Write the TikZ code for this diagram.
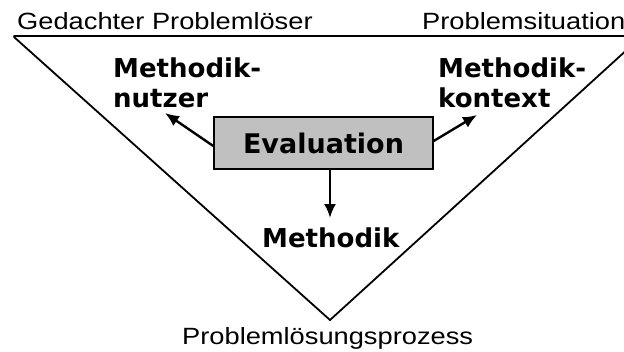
\documentclass[tikz,border=0pt]{standalone}
\usepackage{fontspec}
\setmainfont{Liberation Sans}
\newfontfamily\widefont[FakeStretch=1.16]{Liberation Sans}
\newfontfamily\labelfont{DejaVu Sans}
\usetikzlibrary{arrows.meta}

\definecolor{boxgray}{RGB}{192,192,192}

\tikzset{
  edge/.style={line width=1.8pt, black, line cap=round, line join=miter},
  corner/.style={font=\widefont\fontsize{23.5}{28}\selectfont, inner sep=0pt, anchor=base west},
  role/.style={font=\labelfont\bfseries\fontsize{26}{30}\selectfont, inner sep=0pt, align=left, anchor=base west},
  evalbox/.style={draw=black, line width=1.4pt, fill=boxgray, minimum width=219pt, minimum height=52pt,
                  inner sep=0pt, font=\labelfont\bfseries\fontsize{27}{32}\selectfont},
  pointer/.style={line width=2.4pt, -{Latex[length=14pt,width=12pt]}}
}

\begin{document}
\begin{tikzpicture}[x=1pt,y=-1pt]
  \useasboundingbox (0,0) rectangle (624,351);

  % the funnel: top bar and the two converging sides
  \begin{scope}
    \clip (0,0) rectangle (624,351);
    \draw[edge] (14,36) -- (630,36);
    \draw[edge] (14,37) -- (330,320) -- (641,37);
  \end{scope}

  % corner captions
  \node[corner] (solver)    at (17,29)   {Gedachter Problemlöser};
  \node[corner] (situation) at (422,29)  {Problemsituation};
  \node[corner] (process)   at (182,344) {Problemlösungsprozess};

  % central evaluation box and the three evaluated aspects
  \node[evalbox] (eval) at (323.5,143) {Evaluation};

  % two-line labels are anchored on the baseline of their last line
  \node[role] (user)    at (113,107) {Methodik-\\nutzer};
  \node[role] (context) at (438,107) {Methodik-\\kontext};
  \node[role] (method)  at (262,247) {Methodik};

  \coordinate (userTip)    at (165,113);
  \coordinate (contextTip) at (477,115);
  \coordinate (methodTip)  at (330,218);

  \draw[pointer] ([yshift=-3pt]eval.west) -- (userTip);
  \draw[pointer] ([yshift=2pt]eval.east) -- (contextTip);
  \draw[pointer] ([xshift=6.5pt]eval.south) -- (methodTip);
\end{tikzpicture}
\end{document}
